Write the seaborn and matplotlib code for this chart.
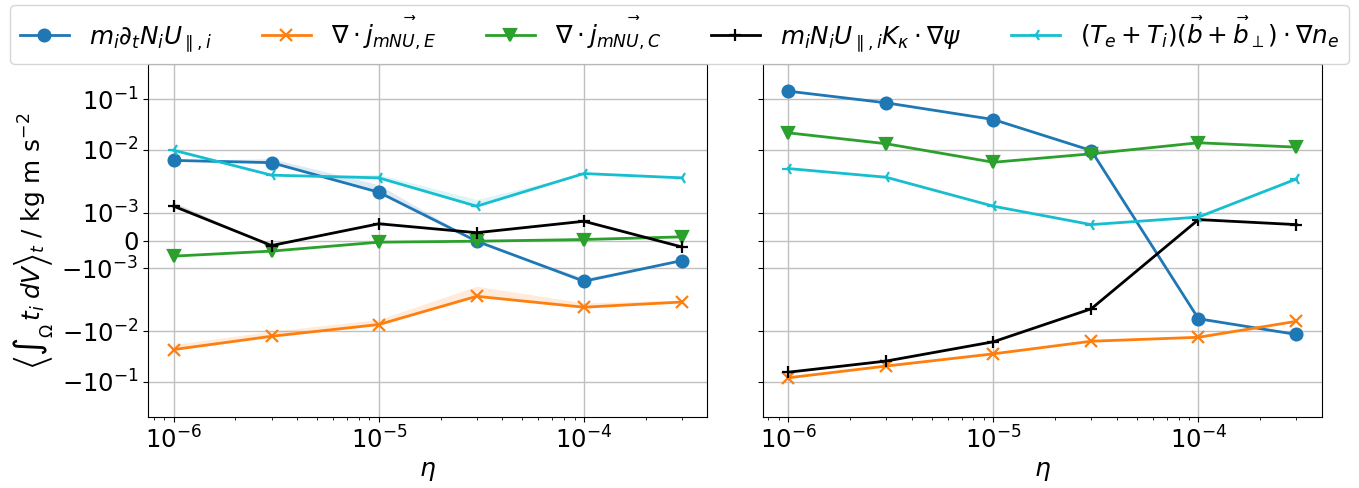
import numpy as np
import pandas as pd
import matplotlib
matplotlib.use("Agg")
import matplotlib.pyplot as plt
import matplotlib.ticker as mticker
import seaborn as sns

# Resistivity scan
eta = [1e-6, 3e-6, 1e-5, 3e-5, 1e-4, 3e-4]

labels = [
    r"$m_i\partial_t N_i U_{\parallel,i}$",
    r"$\nabla\cdot\vec{j_{mNU,E}}$",
    r"$\nabla\cdot\vec{j_{mNU,C}}$",
    r"$m_i N_i U_{\parallel,i} K_\kappa\cdot\nabla\psi$",
    r"$(T_e+T_i)(\vec{b}+\vec{b}_\perp)\cdot\nabla n_e$",
]
colors = ["#1f77b4", "#ff7f0e", "#2ca02c", "black", "#17becf"]
markers = ["o", "x", "v", "+", "3"]

# Left panel: time-averaged volume integrals (kg m s^-2)
left_dtNU = [6.1e-3, 5.5e-3, 1.73e-3, -2.5e-5, -1.46e-3, -7.2e-4]
left_divE = [-2.3e-2, -1.25e-2, -7.3e-3, -2.0e-3, -3.3e-3, -2.6e-3]
left_divC = [-5.6e-4, -3.8e-4, -6e-5, -2.5e-5, 3.6e-5, 1.3e-4]
left_curv = [1.23e-3, -1.8e-4, 6.0e-4, 2.8e-4, 6.9e-4, -2.3e-4]
left_grad = [9.7e-3, 3.1e-3, 2.74e-3, 1.23e-3, 3.34e-3, 2.74e-3]

# Upper edge of the spread over time (left panel)
left_dtNU_hi = [6.1e-3, 6.6e-3, 2.0e-3, -2.5e-5, -1.34e-3, -7.2e-4]
left_divE_hi = [-1.82e-2, -9.9e-3, -5.8e-3, -1.64e-3, -2.7e-3, -2.4e-3]
left_divC_hi = left_divC
left_curv_hi = [1.37e-3, -1.8e-4, 6.0e-4, 2.8e-4, 6.9e-4, -2.3e-4]
left_grad_hi = [1.09e-2, 3.1e-3, 3.2e-3, 1.47e-3, 3.34e-3, 2.74e-3]

# Right panel
right_dtNU = [0.146, 0.0855, 0.0398, 9.6e-3, -5.6e-3, -1.15e-2]
right_divE = [-0.084, -0.049, -0.028, -0.0157, -0.0131, -6.3e-3]
right_divC = [0.0216, 0.0131, 5.6e-3, 8.25e-3, 0.0137, 0.0112]
right_curv = [-0.065, -0.039, -0.0161, -3.55e-3, 7.5e-4, 5.7e-4]
right_grad = [4.2e-3, 2.82e-3, 1.23e-3, 5.7e-4, 8.4e-4, 2.6e-3]

yticks = [-1e-1, -1e-2, -1e-3, 0, 1e-3, 1e-2, 1e-1]

panels = [
    ([left_dtNU, left_divE, left_divC, left_curv, left_grad],
     [left_dtNU_hi, left_divE_hi, left_divC_hi, left_curv_hi, left_grad_hi]),
    ([right_dtNU, right_divE, right_divC, right_curv, right_grad], None),
]

plt.rcParams["font.family"] = ["DejaVu Sans"]
plt.rcParams["mathtext.fontset"] = "dejavusans"

fig, axes = plt.subplots(1, 2, sharey=True, figsize=(13.59, 4.88), dpi=100)
fig.subplots_adjust(left=0.1091, right=0.9726, bottom=0.1461, top=0.8682,
                    wspace=0.0995)

for ax, (series, spreads) in zip(axes, panels):
    for i, vals in enumerate(series):
        df = pd.DataFrame({"eta": eta, "val": vals})
        sns.lineplot(data=df, x="eta", y="val", ax=ax, color=colors[i],
                     marker=markers[i], markersize=8.5,
                     markeredgecolor=colors[i], markeredgewidth=1.6,
                     linewidth=2.0, label=labels[i], errorbar=None)
        if spreads is not None:
            ax.fill_between(eta, vals, spreads[i], color=colors[i],
                            alpha=0.15, linewidth=0)
    ax.set_xscale("log")
    ax.set_yscale("symlog", linthresh=2e-3, linscale=1.0)
    ax.set_ylim(-0.5, 0.5)
    ax.yaxis.set_major_locator(mticker.FixedLocator(yticks))
    ax.yaxis.set_minor_locator(mticker.NullLocator())
    ax.grid(True, which="major", color="#c0c0c0", linewidth=1.0)
    ax.set_axisbelow(True)
    ax.set_xlabel(r"$\eta$", fontsize=18)
    ax.tick_params(axis="both", which="major", labelsize=17.5)
    ax.get_legend().remove()

axes[0].set_ylabel(r"$\left\langle\int_\Omega\, t_i\; dV\right\rangle_t$ / kg m s$^{-2}$",
                   fontsize=17.8)
axes[1].set_ylabel("")

handles, labs = axes[0].get_legend_handles_labels()
fig.legend(handles, labs, loc="upper center", ncol=5, fontsize=17.8,
           bbox_to_anchor=(0.5, 1.0), handlelength=2.0, columnspacing=2.0,
           borderaxespad=0.2)

fig.savefig("out.png", dpi=100)
